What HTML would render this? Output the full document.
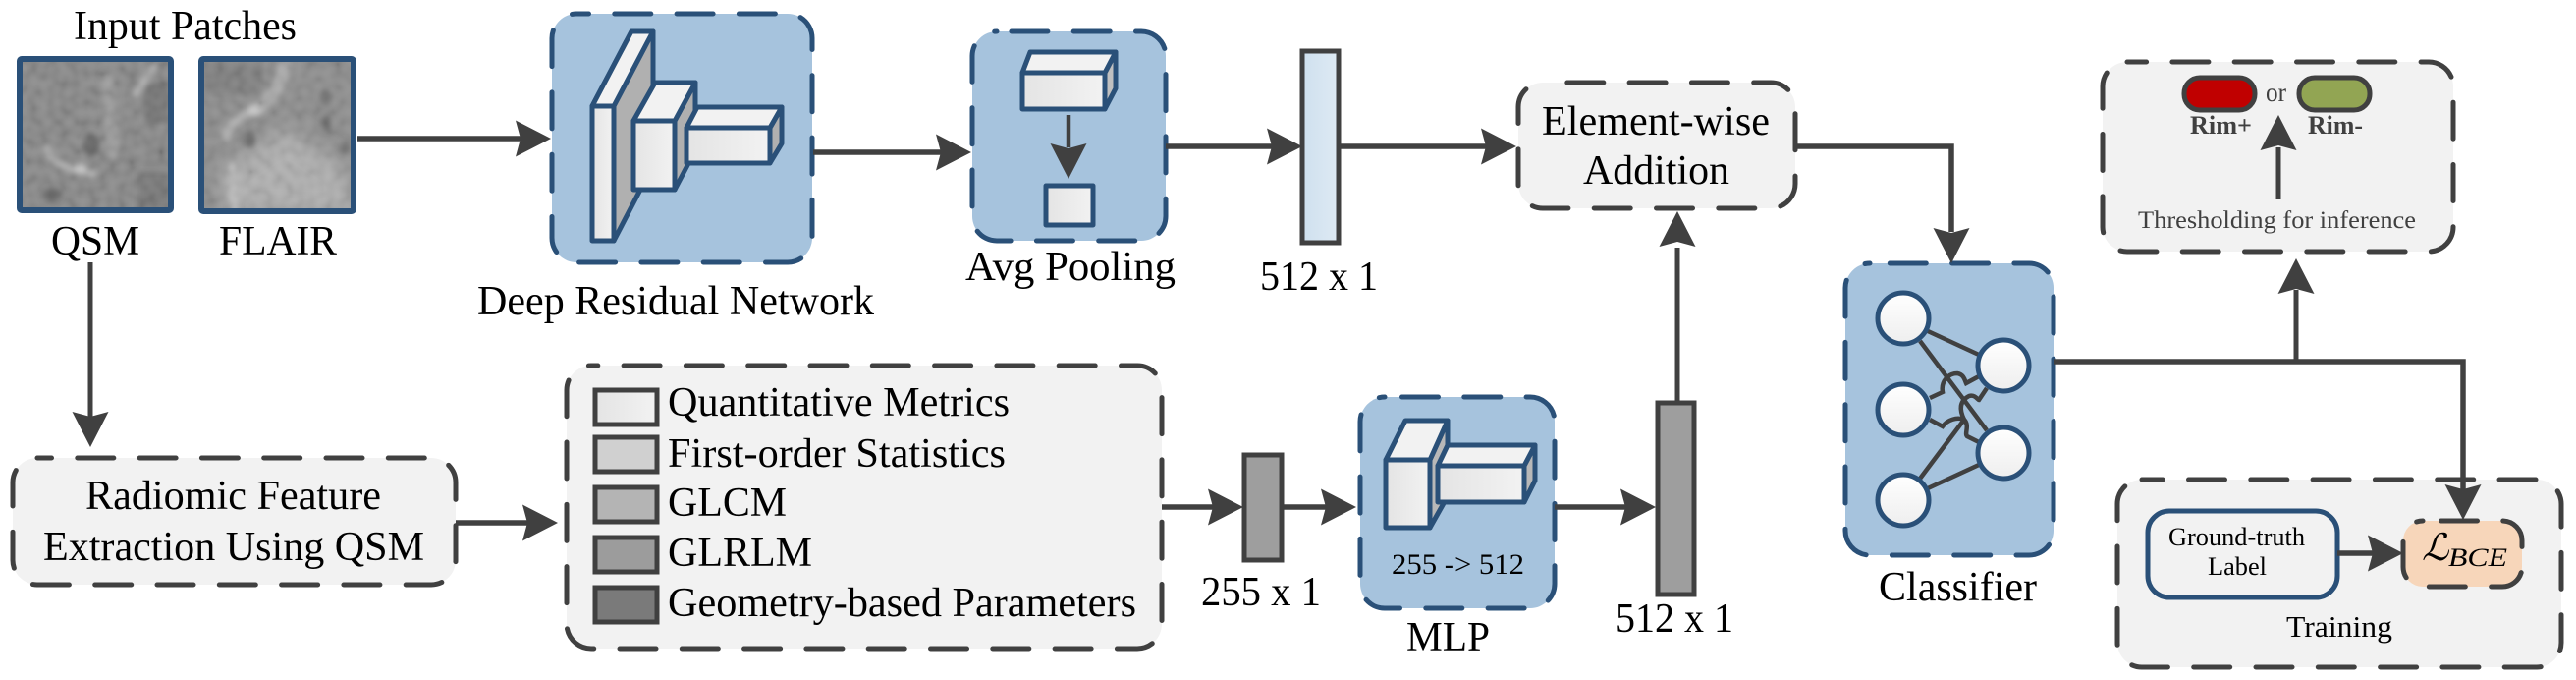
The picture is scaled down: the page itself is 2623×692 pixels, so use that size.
<!DOCTYPE html>
<html><head><meta charset="utf-8"><style>
html,body{margin:0;padding:0;background:#fff;width:2623px;height:692px;overflow:hidden}
svg{display:block}
text{font-family:"Liberation Serif",serif;fill:#000}
.w{stroke:#404040;stroke-width:5.5;fill:none;stroke-linejoin:miter}
.b{fill:#a6c3dd;stroke:#2a5078;stroke-width:5;stroke-dasharray:37 26.3;stroke-linecap:round}
.g{fill:#f2f2f2;stroke:#404040;stroke-width:5;stroke-dasharray:37 26.3;stroke-linecap:round}
.s{stroke:#2a5078;stroke-width:5;stroke-linejoin:round}
.c{stroke:#404040;stroke-width:4.5;fill:none}
.n{fill:url(#ng);stroke:#2a5078;stroke-width:5}
.l{stroke:#404040;stroke-width:5}
</style></head><body>
<svg width="2623" height="692" viewBox="0 0 2623 692" xmlns="http://www.w3.org/2000/svg">
<defs>
<path id="ah" d="M0 0L-36-18.5L-31 0L-36 18.5Z" fill="#404040"/>
<linearGradient id="fg"><stop offset="0" stop-color="#e4e4e4"/><stop offset="1" stop-color="#f2f2f2"/></linearGradient>
<linearGradient id="ng" x2="0" y2="1"><stop offset="0" stop-color="#fff"/><stop offset="1" stop-color="#eee"/></linearGradient>
<linearGradient id="bl"><stop offset="0" stop-color="#cfe0ee"/><stop offset="1" stop-color="#deeaf4"/></linearGradient>
<filter id="bf" x="-10%" y="-10%" width="120%" height="120%"><feGaussianBlur stdDeviation="3"/></filter>
<filter id="bf2" x="-20%" y="-20%" width="140%" height="140%"><feGaussianBlur stdDeviation="10"/></filter>
<filter id="nz" x="0" y="0" width="100%" height="100%"><feTurbulence type="fractalNoise" baseFrequency="0.1" numOctaves="1" seed="5"/><feColorMatrix values="1.6 0 0 0 -.3 1.6 0 0 0 -.3 1.6 0 0 0 -.3 0 0 0 0 1"/></filter>
<clipPath id="c1"><rect x="20" y="60" width="154" height="154"/></clipPath>
<clipPath id="c2"><rect x="205" y="60" width="155" height="155"/></clipPath>
</defs>

<!-- patches -->
<g clip-path="url(#c1)">
<rect x="20" y="60" width="154" height="154" fill="#858585"/>
<g filter="url(#bf)" fill="none" stroke-linecap="round">
<path d="M47 150Q52 168 80 173L95 177" stroke="#aaa" stroke-width="7"/>
<path d="M157 67L137 97" stroke="#aaa" stroke-width="7"/>
<path d="M110 80L115 155" stroke="#989898" stroke-width="13"/>
<ellipse cx="80" cy="172" rx="9" ry="5" fill="#c0c0c0"/>
<ellipse cx="93" cy="147" rx="8" ry="12" fill="#606060"/>
<ellipse cx="53" cy="198" rx="9" ry="7" fill="#5e5e5e"/>
<rect x="148" y="85" width="24" height="40" fill="#6f6f6f"/>
<rect x="140" y="175" width="34" height="38" fill="#737373"/>
</g>
<rect x="20" y="60" width="154" height="154" filter="url(#nz)" opacity=".12"/>
</g>
<rect x="20" y="60" width="154" height="154" rx="2" fill="none" stroke="#2a5078" stroke-width="6"/>
<g clip-path="url(#c2)">
<rect x="205" y="60" width="155" height="155" fill="#8b8b8b"/>
<path d="M228 215L225 175L290 130L350 170L365 220Z" fill="#adadad" filter="url(#bf2)"/>
<g filter="url(#bf)" fill="none" stroke-linecap="round">
<path d="M290 67Q285 95 260 112" stroke="#a8a8a8" stroke-width="13"/>
<path d="M260 112Q230 125 230 140" stroke="#ababab" stroke-width="9"/>
<path d="M236 170L238 212" stroke="#bcbcbc" stroke-width="8"/>
<ellipse cx="260" cy="112" rx="7" ry="5" fill="#c8c8c8"/>
<ellipse cx="254" cy="142" rx="6" ry="8" fill="#666"/>
<ellipse cx="332" cy="100" rx="5" ry="8" fill="#6a6a6a"/>
<ellipse cx="332" cy="125" rx="5" ry="8" fill="#6a6a6a"/>
<ellipse cx="352" cy="150" rx="5" ry="8" fill="#6c6c6c"/>
<rect x="207" y="62" width="60" height="35" fill="#7d7d7d"/>
</g>
<rect x="205" y="60" width="155" height="155" filter="url(#nz)" opacity=".1"/>
</g>
<rect x="205" y="60" width="155" height="155" rx="2" fill="none" stroke="#2a5078" stroke-width="6"/>

<text x="75" y="40" font-size="42.5" textLength="227" lengthAdjust="spacingAndGlyphs">Input Patches</text>
<text x="52" y="259" font-size="42" textLength="90" lengthAdjust="spacingAndGlyphs">QSM</text>
<text x="223" y="259" font-size="42" textLength="120" lengthAdjust="spacingAndGlyphs">FLAIR</text>

<!-- deep residual -->
<rect class="b" x="562" y="14" width="265" height="253" rx="25" stroke-dashoffset="24.5"/>
<g class="s">
<path d="M603 108L643 32H665V168L625 245Z" fill="#b0b0b0"/>
<path d="M603 108L643 32H665L625 108Z" fill="#f2f2f2"/>
<rect x="603" y="108" width="22" height="137" fill="url(#fg)"/>
<path d="M687 123L708 84V153L687 193Z" fill="#b0b0b0"/>
<path d="M645 123L667 84H708L687 123Z" fill="#f2f2f2"/>
<rect x="645" y="123" width="42" height="70" fill="url(#fg)"/>
<path d="M784 130L796 109V146L784 166Z" fill="#b0b0b0"/>
<path d="M699 130L710 109H796L784 130Z" fill="#f2f2f2"/>
<rect x="699" y="130" width="85" height="36" fill="url(#fg)"/>
</g>
<text x="486" y="320" font-size="42" textLength="404" lengthAdjust="spacingAndGlyphs">Deep Residual Network</text>

<!-- avg pooling -->
<rect class="b" x="990" y="32" width="197" height="213" rx="25" stroke-dashoffset="48.4"/>
<g class="s">
<path d="M1125 74L1136 53V90L1125 111Z" fill="#c0c0c0"/>
<path d="M1041 74L1049 53H1136L1125 74Z" fill="#f2f2f2"/>
<rect x="1041" y="74" width="84" height="37" fill="url(#fg)"/>
<rect x="1065" y="189" width="48" height="40" fill="url(#fg)"/>
</g>
<path class="w" d="M1088 117V150" style="stroke-width:4.5"/>
<use href="#ah" transform="translate(1088,182) rotate(90)"/>
<text x="983" y="285" font-size="42" textLength="214" lengthAdjust="spacingAndGlyphs">Avg Pooling</text>

<rect x="1326" y="52" width="37" height="195" fill="url(#bl)" stroke="#404040" stroke-width="5"/>
<text x="1283" y="295" font-size="42" textLength="120" lengthAdjust="spacingAndGlyphs">512 x 1</text>

<!-- element-wise -->
<rect class="g" x="1546" y="84" width="282" height="128" rx="25" stroke-dashoffset="38.5"/>
<text x="1570" y="137" font-size="42" textLength="232" lengthAdjust="spacingAndGlyphs">Element-wise</text>
<text x="1612" y="187" font-size="42" textLength="149" lengthAdjust="spacingAndGlyphs">Addition</text>

<!-- classifier -->
<rect class="b" x="1879" y="268" width="212" height="297" rx="25" stroke-dashoffset="43"/>
<g class="c">
<path d="M1963 337L2015 361"/>
<path d="M1955 347L2023 438"/>
<path d="M1963 497L2015 473"/>
<path d="M1955 487L2000 427C1995 417 1995 408 2005 403C2011 401 2014 407 2015 407L2023 395"/>
<path d="M1965 405L1978 399C1976 388 1984 380 1993 380C2000 381 2001 388 2002 390L2015 383"/>
<path d="M1965 427L1978 434C1983 427 1993 424 2000 427C2006 433 2000 441 2003 444L2015 450"/>
</g>
<circle class="n" cx="1938" cy="324" r="26"/>
<circle class="n" cx="1938" cy="417" r="26"/>
<circle class="n" cx="1938" cy="509" r="26"/>
<circle class="n" cx="2040" cy="372" r="26"/>
<circle class="n" cx="2040" cy="461" r="26"/>
<text x="1913" y="611" font-size="42" textLength="161" lengthAdjust="spacingAndGlyphs">Classifier</text>

<!-- threshold box -->
<rect class="g" x="2141" y="63" width="357" height="193" rx="25" stroke-dashoffset="17.4"/>
<rect x="2224" y="79" width="72" height="33" rx="16" fill="#c00000" stroke="#404040" stroke-width="5"/>
<rect x="2341" y="79" width="72" height="33" rx="16" fill="#92a553" stroke="#404040" stroke-width="5"/>
<text x="2307" y="103" font-size="27" style="fill:#404040" textLength="21" lengthAdjust="spacingAndGlyphs">or</text>
<text x="2230" y="136" font-size="26" font-weight="bold" style="fill:#404040" textLength="63" lengthAdjust="spacingAndGlyphs">Rim+</text>
<text x="2350" y="136" font-size="26" font-weight="bold" style="fill:#404040" textLength="56" lengthAdjust="spacingAndGlyphs">Rim-</text>
<path class="w" d="M2320 203V150" style="stroke-width:5"/>
<use href="#ah" transform="translate(2320,117) rotate(-90)"/>
<text x="2177" y="232" font-size="25.5" style="fill:#404040" textLength="283" lengthAdjust="spacingAndGlyphs">Thresholding for inference</text>

<!-- radiomic -->
<rect class="g" x="13" y="466" width="451" height="129" rx="25" stroke-dashoffset="22.5"/>
<text x="87" y="518" font-size="42" textLength="301" lengthAdjust="spacingAndGlyphs">Radiomic Feature</text>
<text x="44" y="570" font-size="42" textLength="388" lengthAdjust="spacingAndGlyphs">Extraction Using QSM</text>

<!-- features -->
<rect class="g" x="577" y="372" width="606" height="288" rx="25" stroke-dashoffset="30.2"/>
<rect class="l" x="606" y="397" width="63" height="35" fill="url(#fg)"/>
<rect class="l" x="606" y="445" width="63" height="35" fill="#d0d0d0"/>
<rect class="l" x="606" y="496" width="63" height="35" fill="#b4b4b4"/>
<rect class="l" x="606" y="547" width="63" height="35" fill="#9c9c9c"/>
<rect class="l" x="606" y="598" width="63" height="35" fill="#7a7a7a"/>
<text x="680" y="423" font-size="42" textLength="348" lengthAdjust="spacingAndGlyphs">Quantitative Metrics</text>
<text x="680" y="475" font-size="42" textLength="344" lengthAdjust="spacingAndGlyphs">First-order Statistics</text>
<text x="680" y="525" font-size="42" textLength="121" lengthAdjust="spacingAndGlyphs">GLCM</text>
<text x="680" y="576" font-size="42" textLength="147" lengthAdjust="spacingAndGlyphs">GLRLM</text>
<text x="680" y="627" font-size="42" textLength="477" lengthAdjust="spacingAndGlyphs">Geometry-based Parameters</text>

<rect x="1267" y="463" width="38" height="107" fill="#9e9e9e" stroke="#404040" stroke-width="5"/>
<text x="1223" y="616" font-size="42" textLength="122" lengthAdjust="spacingAndGlyphs">255 x 1</text>

<!-- MLP -->
<rect class="b" x="1385" y="404" width="198" height="215" rx="25" stroke-dashoffset="45.8"/>
<g class="s">
<path d="M1456 468L1474 428V505L1456 537Z" fill="#b8b8b8"/>
<path d="M1411 468L1431 428H1474L1456 468Z" fill="#f2f2f2"/>
<rect x="1411" y="468" width="45" height="69" fill="url(#fg)"/>
<path d="M1552 474L1563 453V489L1552 511Z" fill="#b8b8b8"/>
<path d="M1464 474L1474 453H1563L1552 474Z" fill="#f2f2f2"/>
<rect x="1464" y="474" width="88" height="37" fill="url(#fg)"/>
</g>
<text x="1417" y="584" font-size="30" textLength="135" lengthAdjust="spacingAndGlyphs">255 -&gt; 512</text>
<text x="1432" y="662" font-size="42" textLength="85" lengthAdjust="spacingAndGlyphs">MLP</text>

<rect x="1688" y="410" width="37" height="195" fill="#9e9e9e" stroke="#404040" stroke-width="5"/>
<text x="1645" y="643" font-size="42" textLength="120" lengthAdjust="spacingAndGlyphs">512 x 1</text>

<!-- training -->
<rect class="g" x="2156" y="488" width="452" height="191" rx="25" stroke-dashoffset="15.8"/>
<rect x="2187" y="520" width="193" height="88" rx="22" fill="#f2f2f2" stroke="#2a5078" stroke-width="5"/>
<text x="2208" y="555" font-size="26" textLength="139" lengthAdjust="spacingAndGlyphs">Ground-truth</text>
<text x="2248" y="585" font-size="26" textLength="60" lengthAdjust="spacingAndGlyphs">Label</text>
<rect class="g" x="2447" y="530" width="121" height="67" rx="20" style="fill:#f7d6ba" stroke-dashoffset="44.8"/>
<text x="2466" y="570" font-size="38" style="font-family:'DejaVu Serif',serif" font-style="italic">ℒ</text>
<text x="2493" y="576" font-size="26" font-style="italic" textLength="60" lengthAdjust="spacingAndGlyphs">BCE</text>
<text x="2328" y="648" font-size="31" textLength="108" lengthAdjust="spacingAndGlyphs">Training</text>

<!-- connectors -->
<g class="w">
<path d="M364 141H530"/>
<path d="M828 155H960"/>
<path d="M1187 149H1296"/>
<path d="M1363 149H1513"/>
<path d="M1828 149H1987V236"/>
<path d="M92 267V425" style="stroke-width:5"/>
<path d="M464 532H537"/>
<path d="M1183 516H1235"/>
<path d="M1305 516H1350"/>
<path d="M1583 516H1655"/>
<path d="M1708 408V252" style="stroke-width:5"/>
<path d="M2091 368H2508V498"/>
<path d="M2338 368V295" style="stroke-width:5"/>
<path d="M2380 563H2417"/>
</g>
<use href="#ah" transform="translate(561,141)"/>
<use href="#ah" transform="translate(989,155)"/>
<use href="#ah" transform="translate(1326,149)"/>
<use href="#ah" transform="translate(1544,149)"/>
<use href="#ah" transform="translate(1987,268) rotate(90)"/>
<use href="#ah" transform="translate(92,455) rotate(90)"/>
<use href="#ah" transform="translate(568,532)"/>
<use href="#ah" transform="translate(1266,516)"/>
<use href="#ah" transform="translate(1381,516)"/>
<use href="#ah" transform="translate(1686,516)"/>
<use href="#ah" transform="translate(1708,215) rotate(-90)"/>
<use href="#ah" transform="translate(2508,529) rotate(90)"/>
<use href="#ah" transform="translate(2338,263) rotate(-90)"/>
<use href="#ah" transform="translate(2447,563)"/>
</svg>
</body></html>
